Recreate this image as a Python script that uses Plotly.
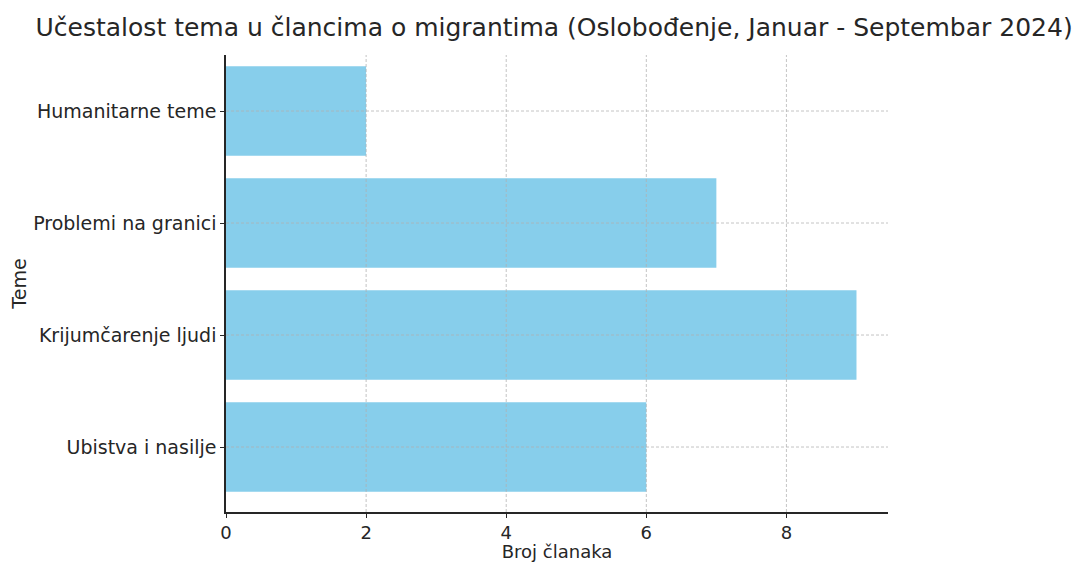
import plotly.graph_objects as go

# data
teme = ["Ubistva i nasilje", "Krijumčarenje ljudi", "Problemi na granici", "Humanitarne teme"]
broj_clanaka = [6, 9, 7, 2]
x_ticks = [0, 2, 4, 6, 8]

FONT = "DejaVu Sans"
TEXT = "#262626"
GRID = "rgba(176,176,176,0.75)"

fig = go.Figure(go.Bar(
    y=teme,
    x=broj_clanaka,
    orientation="h",
    width=0.8,
    marker=dict(color="#87CEEB", line=dict(width=0)),
))

# dashed grid on top of the bars (like matplotlib's default zorder here)
grid = []
for t in x_ticks[1:]:
    grid.append(dict(type="line", layer="above", xref="x", yref="y domain",
                     x0=t, x1=t, y0=0, y1=1,
                     line=dict(color=GRID, width=1, dash="3px,2px")))
for c in teme:
    grid.append(dict(type="line", layer="above", xref="x domain", yref="y",
                     x0=0, x1=1, y0=c, y1=c,
                     line=dict(color=GRID, width=1, dash="3px,2px")))

# page body has an 8px margin, so the figure is a bit smaller than the window
fig.update_layout(
    width=1075,
    height=554,
    margin=dict(l=218, r=195, t=47, b=50),
    paper_bgcolor="white",
    plot_bgcolor="white",
    font=dict(family=FONT, color=TEXT, size=19),
    showlegend=False,
    shapes=grid,
    title=dict(
        text="Učestalost tema u člancima o migrantima (Oslobođenje, Januar - Septembar 2024)",
        font=dict(family=FONT, size=25, color=TEXT),
        x=0.508, xref="container", xanchor="center",
        y=0.965, yref="container", yanchor="middle",
    ),
)

fig.update_xaxes(
    range=[0, 9.45],
    tickvals=x_ticks,
    ticks="outside", ticklen=4, tickcolor=TEXT,
    tickfont=dict(size=18),
    showgrid=False,
    showline=True, linecolor=TEXT, linewidth=1.5,
    zeroline=False, automargin=False,
    title=dict(text="Broj članaka", font=dict(size=18), standoff=4),
)

fig.update_yaxes(
    range=[-0.58, 3.5],
    ticks="outside", ticklen=4, tickcolor=TEXT,
    tickfont=dict(size=19),
    showgrid=False,
    showline=True, linecolor=TEXT, linewidth=1.5,
    automargin=False,
    title=dict(text="Teme", font=dict(size=19), standoff=6),
)

fig.write_html("out.html")
